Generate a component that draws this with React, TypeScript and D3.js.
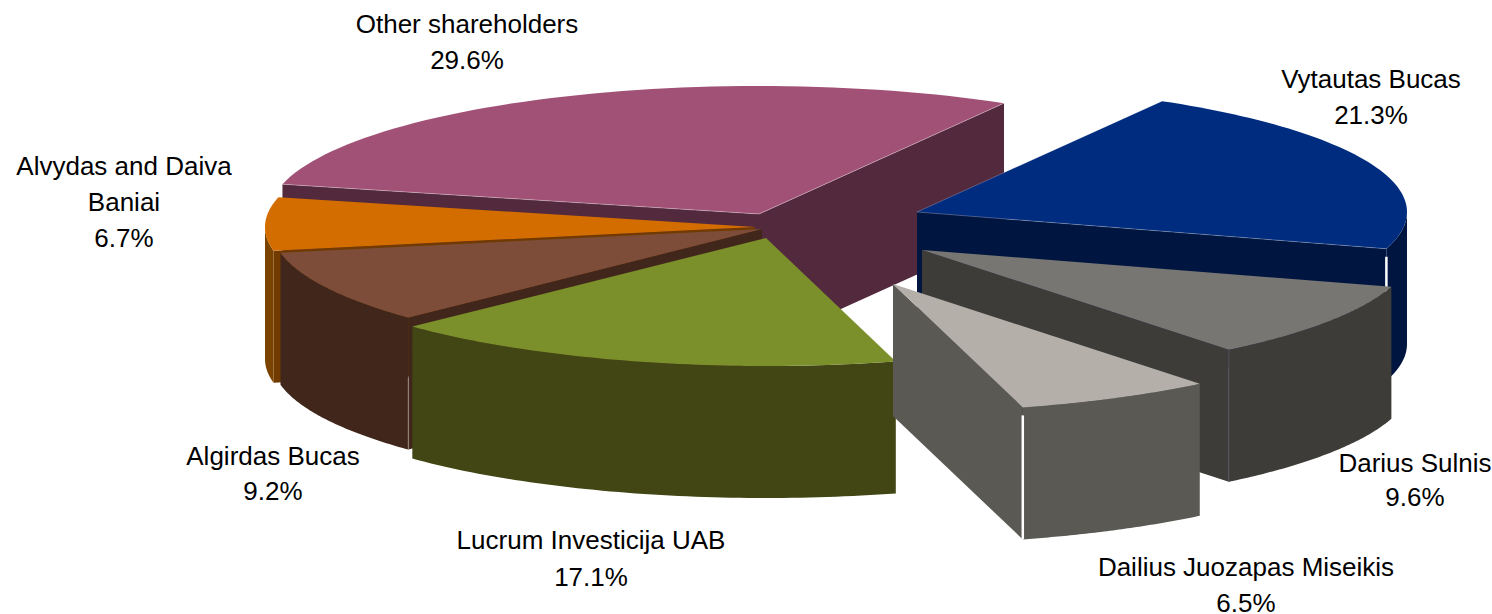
import React from 'react';
import { pie, line, range, scaleLinear } from 'd3';

const width = 1492, height = 614;

// data
const names = ['Vytautas Bucas', 'Darius Sulnis', 'Dailius Juozapas Miseikis', 'Lucrum Investicija UAB', 'Algirdas Bucas', 'Alvydas and Daiva Baniai', 'Other shareholders'];
const shares = [21.3, 9.6, 6.5, 17.1, 9.2, 6.7, 29.6];
const labelLines = [['Vytautas Bucas'], ['Darius Sulnis'], ['Dailius Juozapas Miseikis'], ['Lucrum Investicija UAB'], ['Algirdas Bucas'], ['Alvydas and Daiva', 'Baniai'], ['Other shareholders']];

// layout + colours, same order as names
const topColors = ['#002c7f', '#777672', '#b4b0a9', '#7b8f2a', '#7d4d39', '#d46d00', '#a15176'];
const wallColors = ['#001641', '#3d3c39', '#5a5954', '#414614', '#41271b', '#7a4400', '#53293e'];
const edgeColors = ['#001641', '#3d3c39', '#5a5954', '#414614', '#41271b', '#703a00', '#53293e'];
const centersX = [917, 922, 893, 766, 762, 755, 759];
const centersY = [212, 250, 284, 238, 229, 227, 214];
const labelX = [1371, 1415, 1246, 591, 273, 124, 467];
const labelY = [88, 472, 576, 549, 465, 175, 33];
const labelGap = [36, 34, 36, 37, 35, 36, 36];
const cornerColor = ['#ffffff', '#50525a', '#ffffff', 'none', '#a08a80', 'none', 'none'];
const cornerWidth = [2.5, 1, 2.5, 0, 1, 0, 0];
const cornerFrom = [8, 0, 8, 0, 60, 0, 0];
const rimOpacity = [0.3, 0, 0, 0, 0, 0, 0.4];
const drawOrder = [6, 5, 4, 3, 0, 1, 2];

const rx = 490, ry = 128, depth = 132;
const rad = Math.PI / 180;

export default function App() {
  const slices = pie<number>().sort(null).startAngle(30 * rad).endAngle(390 * rad)(shares);

  const parts = drawOrder.map(i => {
    const s = slices[i];
    const x = scaleLinear().domain([-1, 1]).range([centersX[i] - rx, centersX[i] + rx]);
    const y = scaleLinear().domain([-1, 1]).range([centersY[i] - ry, centersY[i] + ry]);
    const px = (a: number) => x(Math.sin(a));
    const py = (a: number, z = 0) => y(-Math.cos(a)) + z;
    const sampled = (a0: number, a1: number) => range(0, 61).map(k => a0 + (a1 - a0) * k / 60);
    const path = line<[number, number]>();
    const cx = x(0), cy = y(0);

    const top = path([[cx, cy], ...sampled(s.startAngle, s.endAngle).map(a => [px(a), py(a)] as [number, number])]) + 'Z';

    // outer wall only shows for the front half of the ellipse
    const a0 = Math.max(s.startAngle, 90 * rad), a1 = Math.min(s.endAngle, 270 * rad);
    let outer = null;
    if (a1 > a0) {
      const arc = sampled(a0, a1);
      outer = path([
        ...arc.map(a => [px(a), py(a)] as [number, number]),
        ...arc.slice().reverse().map(a => [px(a), py(a, depth)] as [number, number]),
      ]) + 'Z';
    }

    const radial = (a: number) => path([[cx, cy], [px(a), py(a)], [px(a), py(a, depth)], [cx, cy + depth]]) + 'Z';
    const startVisible = Math.sin(s.startAngle) < 0;
    const endVisible = Math.sin(s.endAngle) > 0;
    const cornerAngle = endVisible ? s.endAngle : s.startAngle;
    const rim = path([[px(s.startAngle), py(s.startAngle)], [cx, cy], [px(s.endAngle), py(s.endAngle)]]);

    return (
      <g key={names[i]}>
        {startVisible && <path d={radial(s.startAngle)} fill={edgeColors[i]} />}
        {endVisible && <path d={radial(s.endAngle)} fill={edgeColors[i]} />}
        {outer && <path d={outer} fill={wallColors[i]} />}
        {cornerWidth[i] > 0 && (
          <line x1={px(cornerAngle)} x2={px(cornerAngle)} y1={py(cornerAngle, cornerFrom[i])} y2={py(cornerAngle, depth)}
            stroke={cornerColor[i]} strokeWidth={cornerWidth[i]} />
        )}
        <path d={top} fill={topColors[i]} />
        {rimOpacity[i] > 0 && <path d={rim} fill="none" stroke="#fff" strokeOpacity={rimOpacity[i]} strokeWidth={0.8} />}
      </g>
    );
  });

  return (
    <svg width={width} height={height} style={{ position: 'absolute', left: 0, top: 0, background: '#fff' }}>
      {parts}
      <g fontFamily="'Liberation Sans', Arial, sans-serif" fontSize={26} fill="#000" textAnchor="middle">
        {names.map((n, i) => (
          <text key={n} x={labelX[i]} y={labelY[i]}>
            {labelLines[i].map((t, k) => <tspan key={k} x={labelX[i]} y={labelY[i] + k * labelGap[i]}>{t}</tspan>)}
            <tspan x={labelX[i]} y={labelY[i] + labelLines[i].length * labelGap[i]}>{shares[i].toFixed(1)}%</tspan>
          </text>
        ))}
      </g>
    </svg>
  );
}
